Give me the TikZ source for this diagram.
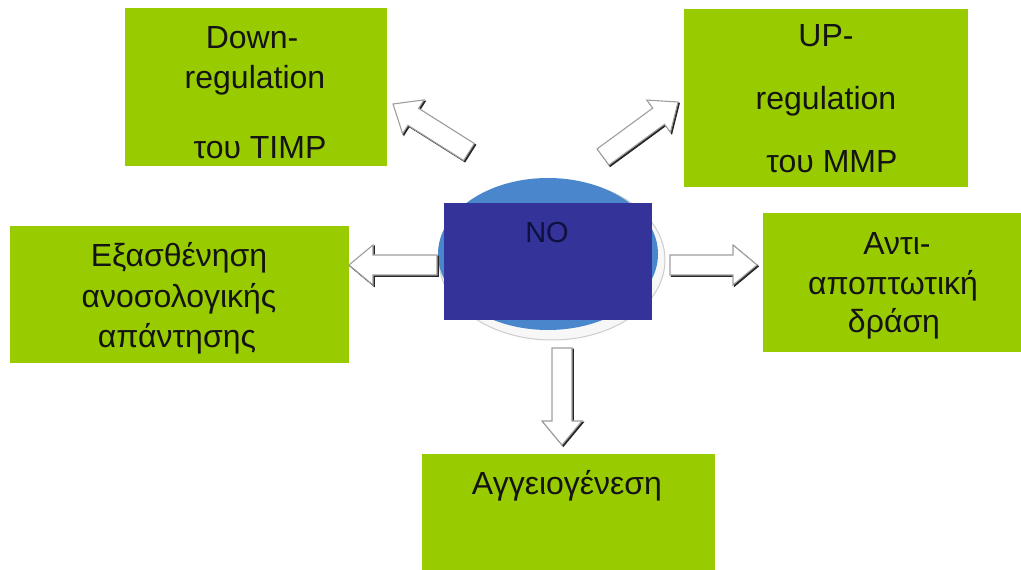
\documentclass[tikz,border=0pt]{standalone}
\usepackage{fontspec}
\setmainfont{Liberation Sans}
\usetikzlibrary{calc,shapes.geometric}
\definecolor{boxgreen}{RGB}{153,204,0}
\definecolor{noblue}{RGB}{51,51,153}
\definecolor{ellblue}{RGB}{74,134,204}
\definecolor{txtcol}{RGB}{20,20,20}
\definecolor{notxt}{RGB}{16,16,64}
\newcommand\blockarrow[2]{%
  \coordinate (bah) at ($(#2)!24pt!(#1)$);
  \foreach \st in {barrowshadow, barrow}{
  \draw[\st] ($(#1)!10pt!90:(#2)$) -- ($(bah)!10pt!90:(#2)$) -- ($(bah)!20pt!90:(#2)$)
    -- (#2) -- ($(bah)!20pt!-90:(#2)$) -- ($(bah)!10pt!-90:(#2)$) -- ($(#1)!10pt!-90:(#2)$) -- cycle;}}
\begin{document}
\begin{tikzpicture}[x=1pt,y=1pt,
  box/.style={rectangle, fill=boxgreen, draw=none, inner sep=0pt},
  txt/.style={anchor=base, text=txtcol, font=\fontsize{32}{38}\selectfont, inner sep=0pt},
  barrow/.style={draw=gray!75, fill=white, line width=1.1pt, line join=miter},
  barrowshadow/.style={draw=gray!30!black, fill=gray!30!black, line width=1.1pt, line join=miter,
    transform canvas={xshift=1.3pt, yshift=-1.3pt}}]
\useasboundingbox (0,0) rectangle (1021,570);
% boxes
\node[box, minimum width=262pt, minimum height=158pt] (timp) at (256,483) {};
\node[box, minimum width=284pt, minimum height=178pt] (mmp) at (826,472) {};
\node[box, minimum width=339pt, minimum height=137pt] (weak) at (179.5,275.5) {};
\node[box, minimum width=258pt, minimum height=139pt] (anti) at (892,287.5) {};
\node[box, minimum width=293pt, minimum height=116pt] (angio) at (568.5,58) {};
% texts
\node[txt] (timp1) at (252,521) {Down-};
\node[txt] (timp2) at (255,481) {regulation};
\node[txt] (timp3) at (260,411) {του TIMP};
\node[txt] (mmp1) at (826,523) {UP-};
\node[txt] (mmp2) at (826,460) {regulation};
\node[txt] (mmp3) at (832,397) {του MMP};
\node[txt] (weak1) at (179,303) {Εξασθένηση};
\node[txt] (weak2) at (179,262) {ανοσολογικής};
\node[txt] (weak3) at (177,222) {απάντησης};
\node[txt] (anti1) at (897,315) {Αντι-};
\node[txt] (anti2) at (893,275) {αποπτωτική};
\node[txt] (anti3) at (894,237) {δράση};
\node[txt] (angio1) at (567,75) {Αγγειογένεση};
% centre
\node[ellipse, draw=gray!40, line width=1pt, fill=white!94!gray, minimum width=226pt, minimum height=160pt, inner sep=0pt] (ring) at (552,310) {};
\node[ellipse, fill=ellblue, minimum width=220pt, minimum height=152pt, inner sep=0pt] (core) at (548,316) {};
\node[rectangle, fill=noblue, minimum width=208pt, minimum height=117pt, inner sep=0pt] (no) at (548,308.5) {};
\node[txt, text=notxt, font=\fontsize{29}{34}\selectfont] (notext) at (547,327) {NO};
% arrows
\coordinate (ulT) at (469,418); \coordinate (ulH) at (393,466);
\coordinate (urT) at (603,413); \coordinate (urH) at (678,468);
\coordinate (lT) at (437,305);  \coordinate (lH) at (349,305);
\coordinate (rT) at (670,305);  \coordinate (rH) at (757,305);
\coordinate (dT) at (562,222);  \coordinate (dH) at (562,125);
\blockarrow{ulT}{ulH}
\blockarrow{urT}{urH}
\blockarrow{lT}{lH}
\blockarrow{rT}{rH}
\blockarrow{dT}{dH}
\end{tikzpicture}
\end{document}
